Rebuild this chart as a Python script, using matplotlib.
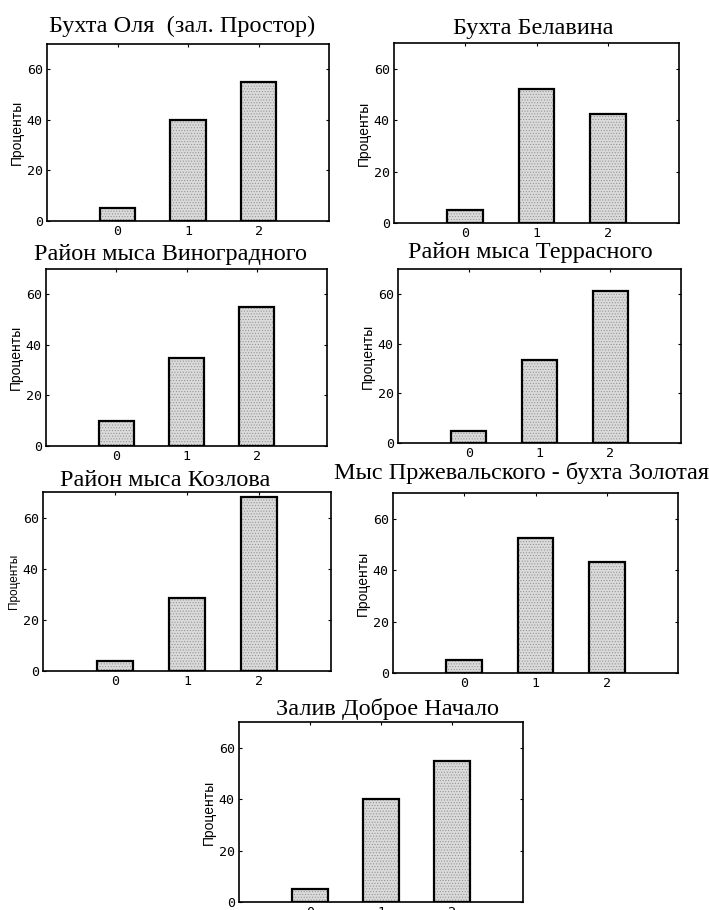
import matplotlib
matplotlib.use("Agg")
import matplotlib.pyplot as plt

# Category codes on the x axis
categories = [0, 1, 2]

# Share of each category (percent) for every site
titles = [
    "Бухта Оля  (зал. Простор)",
    "Бухта Белавина",
    "Район мыса Виноградного",
    "Район мыса Террасного",
    "Район мыса Козлова",
    "Мыс Пржевальского - бухта Золотая",
    "Залив Доброе Начало",
]
olya = [5, 40, 55]
belavina = [5, 52, 42.5]
vinogradny = [10, 35, 55]
terrasny = [5, 33.5, 61]
kozlov = [4, 28.5, 68]
przhevalsky = [5, 52.5, 43]
dobroe_nachalo = [5, 40, 55]
series = [olya, belavina, vinogradny, terrasny, kozlov, przhevalsky, dobroe_nachalo]

y_ticks = [0, 20, 40, 60]
y_label = "Проценты"

W, H = 709, 910
fig = plt.figure(figsize=(W / 100, H / 100), dpi=100)
plt.rcParams["hatch.linewidth"] = 0.4

# panel boxes in pixels: left, right, top, bottom
boxes = [
    (47, 329, 44, 221),
    (394, 679, 43, 223),
    (46, 327, 269, 446),
    (398, 681, 269, 443),
    (43, 331, 492, 671),
    (393, 678, 493, 673),
    (239, 523, 722, 902),
]
# title anchor (center x, baseline y) in pixels
title_pos = [
    (182, 32),
    (533, 34),
    (170, 260),
    (530, 258),
    (165, 486),
    (521, 479),
    (388, 715),
]
label_sizes = [10, 10, 10, 10, 8.5, 10, 10]

for i, (vals, (l, r, t, b)) in enumerate(zip(series, boxes)):
    ax = fig.add_axes([l / W, 1 - b / H, (r - l) / W, (b - t) / H])
    ax.bar(categories, vals, width=0.5, color="#dadada", edgecolor="#8c8c8c",
           hatch="......", linewidth=0, zorder=2)
    ax.bar(categories, vals, width=0.5, fill=False, edgecolor="black",
           linewidth=1.6, zorder=3)
    ax.set_xlim(-1, 3)
    ax.set_ylim(0, 70)
    ax.set_xticks(categories)
    ax.set_yticks(y_ticks)
    ax.tick_params(axis="both", which="both", direction="in", length=2.5,
                   width=0.8, top=True, right=True, labelsize=9.5, pad=3)
    for lab in ax.get_xticklabels() + ax.get_yticklabels():
        lab.set_fontfamily("DejaVu Sans Mono")
    for sp in ax.spines.values():
        sp.set_linewidth(1.2)
    ax.set_ylabel(y_label, fontfamily="Liberation Sans",
                  fontsize=label_sizes[i], labelpad=2)
    cx, by = title_pos[i]
    fig.text(cx / W, 1 - by / H, titles[i], ha="center", va="baseline",
             fontfamily="Liberation Serif", fontsize=17.5)

fig.savefig("out.png", dpi=100, facecolor="white")
